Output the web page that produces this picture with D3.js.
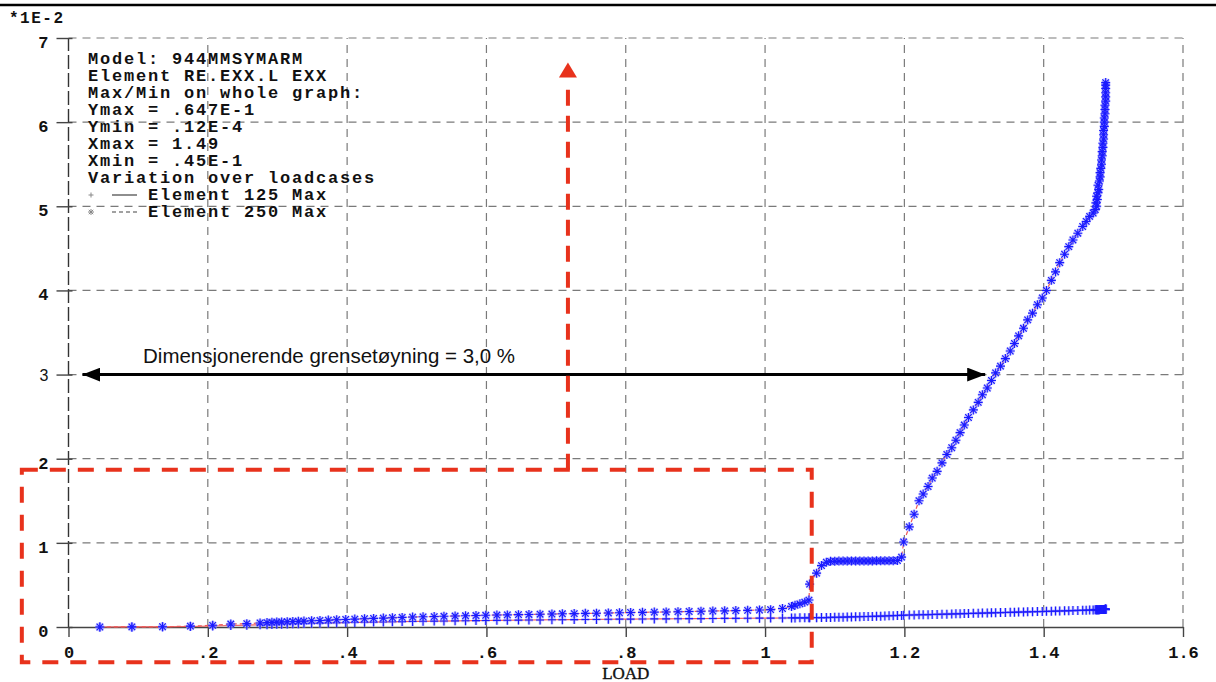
<!DOCTYPE html>
<meta charset="utf-8">
<style>
body { margin: 0; background: #fff; }
svg { display: block; }
.mono { font-family: "Liberation Mono", "DejaVu Sans Mono", monospace; font-weight: bold; fill: #111; }
.grid line { stroke: #7a7a7a; stroke-width: 1.2; stroke-dasharray: 8,6; }
.note { font-family: "Liberation Mono", monospace; font-size: 17px; font-weight: bold; letter-spacing: 1.8px; fill: #111; }
</style>
<svg width="1216" height="682"></svg>
<script src="https://cdnjs.cloudflare.com/ajax/libs/d3/7.8.5/d3.min.js"></script>
<script>

// LOAD steps (shared by both elements)
var load = [
  0.045, 0.091, 0.135, 0.175, 0.207, 0.233, 0.256, 0.275, 0.285, 0.292,
  0.299, 0.306, 0.314, 0.322, 0.330, 0.338, 0.349, 0.361, 0.373, 0.385,
  0.398, 0.411, 0.425, 0.438, 0.452, 0.465, 0.479, 0.494, 0.509, 0.525,
  0.539, 0.555, 0.570, 0.585, 0.599, 0.615, 0.630, 0.646, 0.661, 0.677,
  0.694, 0.709, 0.726, 0.742, 0.758, 0.775, 0.791, 0.807, 0.824, 0.841,
  0.858, 0.875, 0.891, 0.908, 0.925, 0.942, 0.958, 0.975, 0.992, 1.008,
  1.025, 1.038, 1.043, 1.050, 1.057, 1.063,
  1.064, 1.074, 1.081, 1.088,
  1.094, 1.100, 1.106, 1.112, 1.118, 1.124, 1.130, 1.136, 1.142, 1.148,
  1.154, 1.160, 1.166, 1.172, 1.178, 1.184, 1.190,
  1.196, 1.199, 1.207, 1.214, 1.221, 1.227, 1.234, 1.240, 1.247, 1.254,
  1.261, 1.268, 1.274, 1.280, 1.286, 1.292, 1.299, 1.306, 1.312, 1.319,
  1.325, 1.331, 1.338, 1.345, 1.352, 1.358, 1.364, 1.371, 1.377, 1.384,
  1.391, 1.398, 1.404, 1.411, 1.417, 1.423, 1.430, 1.436, 1.442, 1.449,
  1.456, 1.461, 1.466, 1.471, 1.474,
  1.476, 1.475, 1.477, 1.476, 1.478, 1.479, 1.478, 1.480, 1.481, 1.481,
  1.482, 1.483, 1.483, 1.484, 1.484, 1.485, 1.485, 1.486, 1.486, 1.486,
  1.487, 1.487, 1.487, 1.488, 1.488, 1.488, 1.489, 1.489, 1.489, 1.489,
  1.489, 1.489
];

// EXX (*1E-2), Element 125 Max
var elem125 = [
  0.000, 0.001, 0.002, 0.006, 0.012, 0.018, 0.022, 0.026, 0.028, 0.030,
  0.032, 0.034, 0.036, 0.038, 0.040, 0.042, 0.044, 0.046, 0.048, 0.050,
  0.052, 0.054, 0.056, 0.058, 0.060, 0.062, 0.064, 0.066, 0.068, 0.070,
  0.071, 0.073, 0.074, 0.076, 0.077, 0.079, 0.080, 0.082, 0.083, 0.084,
  0.086, 0.087, 0.088, 0.089, 0.090, 0.092, 0.093, 0.094, 0.095, 0.096,
  0.097, 0.098, 0.099, 0.100, 0.101, 0.102, 0.103, 0.104, 0.105, 0.106,
  0.107, 0.108, 0.108, 0.109, 0.109, 0.110,
  0.110, 0.111, 0.112, 0.112,
  0.114, 0.115, 0.116, 0.117, 0.118, 0.120, 0.121, 0.122, 0.124, 0.125,
  0.126, 0.128, 0.129, 0.131, 0.133, 0.135, 0.137,
  0.138, 0.140, 0.142, 0.143, 0.145, 0.146, 0.147, 0.149, 0.150, 0.152,
  0.153, 0.155, 0.156, 0.158, 0.159, 0.161, 0.162, 0.164, 0.165, 0.167,
  0.168, 0.170, 0.171, 0.173, 0.174, 0.176, 0.177, 0.179, 0.180, 0.182,
  0.183, 0.185, 0.186, 0.188, 0.189, 0.191, 0.192, 0.194, 0.195, 0.197,
  0.198, 0.200, 0.201, 0.203, 0.204,
  0.205, 0.205, 0.205, 0.205, 0.206, 0.206, 0.206, 0.206, 0.207, 0.207,
  0.207, 0.207, 0.207, 0.208, 0.208, 0.208, 0.208, 0.208, 0.208, 0.209,
  0.209, 0.209, 0.209, 0.209, 0.209, 0.210, 0.210, 0.210, 0.210, 0.210,
  0.210, 0.210
];

// EXX (*1E-2), Element 250 Max
var elem250 = [
  0.000, 0.001, 0.003, 0.010, 0.020, 0.035, 0.040, 0.048, 0.052, 0.055,
  0.058, 0.060, 0.062, 0.065, 0.068, 0.070, 0.074, 0.078, 0.082, 0.086,
  0.090, 0.094, 0.098, 0.102, 0.106, 0.110, 0.114, 0.118, 0.121, 0.124,
  0.127, 0.130, 0.133, 0.136, 0.139, 0.142, 0.144, 0.147, 0.149, 0.152,
  0.154, 0.157, 0.159, 0.162, 0.164, 0.167, 0.169, 0.172, 0.174, 0.177,
  0.179, 0.182, 0.184, 0.187, 0.190, 0.192, 0.195, 0.198, 0.202, 0.206,
  0.220, 0.245, 0.258, 0.275, 0.295, 0.320,
  0.510, 0.640, 0.730, 0.770,
  0.780, 0.782, 0.783, 0.783, 0.784, 0.784, 0.784, 0.785, 0.785, 0.785,
  0.785, 0.786, 0.786, 0.786, 0.787, 0.788, 0.790,
  0.83, 1.01, 1.19, 1.34, 1.50, 1.58, 1.67, 1.77, 1.85, 1.95,
  2.05, 2.13, 2.22, 2.31, 2.40, 2.49, 2.58, 2.67, 2.76, 2.84,
  2.93, 3.02, 3.10, 3.19, 3.28, 3.37, 3.46, 3.55, 3.65, 3.73,
  3.83, 3.91, 4.00, 4.12, 4.22, 4.33, 4.43, 4.52, 4.60, 4.68,
  4.76, 4.82, 4.88, 4.92, 4.96,
  5.00, 5.04, 5.08, 5.12, 5.16, 5.20, 5.25, 5.30, 5.35, 5.40,
  5.45, 5.50, 5.55, 5.60, 5.65, 5.70, 5.75, 5.80, 5.85, 5.90,
  5.95, 6.00, 6.05, 6.10, 6.15, 6.20, 6.25, 6.30, 6.35, 6.40,
  6.44, 6.47
];

var xTicks = [0, 0.2, 0.4, 0.6, 0.8, 1, 1.2, 1.4, 1.6];
var xTickLabels = ["0", ".2", ".4", ".6", ".8", "1", "1.2", "1.4", "1.6"];
var yTicks = [0, 1, 2, 3, 4, 5, 6, 7];

var infoLines = [
  "Model: 944MMSYMARM",
  "Element RE.EXX.L EXX",
  "Max/Min on whole graph:",
  "Ymax = .647E-1",
  "Ymin = .12E-4",
  "Xmax = 1.49",
  "Xmin = .45E-1",
  "Variation over loadcases"
];
var legendLabels = ["Element 125 Max", "Element 250 Max"];

var limitText = "Dimensjonerende grensetøyning = 3,0 %";
var limitValue = 3;

var svg = d3.select("svg"),
    W = +svg.attr("width"),
    H = +svg.attr("height");

var x = d3.scaleLinear().domain([0, 1.6]).range([68.5, 1183]);
var y = d3.scaleLinear().domain([0, 7]).range([627, 38]);

// top rule
svg.append("line")
    .attr("x1", 0).attr("x2", W).attr("y1", 5).attr("y2", 5)
    .attr("stroke", "#000").attr("stroke-width", 2.5);

// grid
var grid = svg.append("g").attr("class", "grid");
grid.selectAll(".h").data(yTicks.slice(1)).enter().append("line")
    .attr("x1", x(0)).attr("x2", x(1.6))
    .attr("y1", function(d) { return y(d); })
    .attr("y2", function(d) { return y(d); });
grid.selectAll(".v").data(xTicks.slice(1)).enter().append("line")
    .attr("y1", y(0)).attr("y2", y(7))
    .attr("x1", function(d) { return x(d); })
    .attr("x2", function(d) { return x(d); });

// left axis line (dashed dark)
svg.append("line")
    .attr("x1", x(0)).attr("x2", x(0)).attr("y1", y(0)).attr("y2", y(7))
    .attr("stroke", "#333").attr("stroke-width", 1.4).attr("stroke-dasharray", "14,4");

// axes
var xAxis = svg.append("g")
    .attr("transform", "translate(0," + y(0) + ")")
    .call(d3.axisBottom(x).tickValues(xTicks)
      .tickFormat(function(d, i) { return xTickLabels[i]; })
      .tickSizeInner(10).tickSizeOuter(0).tickPadding(9));
xAxis.select(".domain").attr("stroke", "#444").attr("stroke-width", 1.5);
xAxis.selectAll(".tick line").attr("stroke", "#444").attr("stroke-width", 1.4);
xAxis.selectAll("text").attr("class", "mono").attr("font-size", 17).attr("fill", "#111");

var yAxis = svg.append("g")
    .attr("transform", "translate(" + x(0) + ",0)")
    .call(d3.axisLeft(y).tickValues(yTicks).tickFormat(d3.format("d"))
      .tickSizeInner(12).tickSizeOuter(0).tickPadding(8));
yAxis.select(".domain").remove();
yAxis.selectAll(".tick line").attr("stroke", "#444").attr("stroke-width", 1.4).attr("x2", -12).attr("x1", 4);
yAxis.selectAll("text").attr("class", "mono").attr("font-size", 17).attr("fill", "#111").attr("dy", "0.55em");
yAxis.selectAll(".tick").filter(function(d) { return d === limitValue; }).select("text")
    .attr("class", null)
    .style("font-family", "'Liberation Sans', Arial, sans-serif")
    .attr("font-size", 16).attr("fill", "#111").attr("dy", "0.4em");

svg.append("text").attr("class", "mono")
    .attr("x", 9).attr("y", 23).attr("font-size", 16).attr("letter-spacing", 1.5)
    .text("*1E-2");

svg.append("text")
    .attr("x", (x(0) + x(1.6)) / 2).attr("y", 679)
    .attr("text-anchor", "middle")
    .style("font-family", "'Liberation Serif', 'Times New Roman', serif")
    .attr("font-size", 17).attr("fill", "#111")
    .attr("stroke", "#111").attr("stroke-width", 0.4)
    .text("LOAD");

// series lines
var line = d3.line()
    .x(function(d) { return x(d[0]); })
    .y(function(d) { return y(d[1]); });

var s125 = load.map(function(l, i) { return [l, elem125[i]]; });
var s250 = load.map(function(l, i) { return [l, elem250[i]]; });

svg.append("path").datum(s125).attr("d", line)
    .attr("fill", "none").attr("stroke", "#ee5a5a").attr("stroke-width", 1.2);
svg.append("path").datum(s250).attr("d", line)
    .attr("fill", "none").attr("stroke", "#ee5a5a").attr("stroke-width", 1.2)
    .attr("stroke-dasharray", "4,3");

var plusPath = "M-4,0H4M0,-4.5V4.5";
var starPath = "M-4.5,0H4.5M0,-4.5V4.5M-3.3,-3.3L3.3,3.3M-3.3,3.3L3.3,-3.3";

function markers(data, path) {
  var g = svg.append("g");
  g.selectAll(".halo").data(data).enter().append("path")
      .attr("d", path)
      .attr("transform", function(d) { return "translate(" + x(d[0]) + "," + y(d[1]) + ")"; })
      .attr("stroke", "#9a9aff").attr("stroke-opacity", 0.55).attr("stroke-width", 2.8).attr("fill", "none");
  g.selectAll(".m").data(data).enter().append("path")
      .attr("d", path)
      .attr("transform", function(d) { return "translate(" + x(d[0]) + "," + y(d[1]) + ")"; })
      .attr("stroke", "#1a1aff").attr("stroke-width", 1.1).attr("fill", "none");
}
markers(s125, plusPath);
markers(s250, starPath);

// info block
var info = svg.append("g");
info.selectAll("text").data(infoLines).enter().append("text")
    .attr("class", "note")
    .attr("x", 88).attr("y", function(d, i) { return 64 + i * 17; })
    .text(function(d) { return d; });

var legY = [64 + 8 * 17, 64 + 9 * 17];
var leg = info.selectAll(".leg").data(legendLabels).enter().append("g");
leg.append("text").attr("class", "note")
    .attr("x", 148).attr("y", function(d, i) { return legY[i]; })
    .text(function(d) { return d; });
leg.append("line")
    .attr("x1", 112).attr("x2", 137)
    .attr("y1", function(d, i) { return legY[i] - 5; })
    .attr("y2", function(d, i) { return legY[i] - 5; })
    .attr("stroke", "#444").attr("stroke-width", 1.2)
    .attr("stroke-dasharray", function(d, i) { return i ? "4,3" : null; });
leg.append("path")
    .attr("d", function(d, i) { return i ? "M-3,0H3M0,-3V3M-2.2,-2.2L2.2,2.2M-2.2,2.2L2.2,-2.2" : "M-2.5,0H2.5M0,-2.5V2.5"; })
    .attr("transform", function(d, i) { return "translate(91," + (legY[i] - 5) + ")"; })
    .attr("stroke", "#888").attr("stroke-width", 1).attr("fill", "none");

// annotation: design strain limit, double arrow
var defs = svg.append("defs");
defs.append("marker").attr("id", "blackHead")
    .attr("viewBox", "0 0 18 14").attr("refX", 18).attr("refY", 7)
    .attr("markerWidth", 18).attr("markerHeight", 14).attr("markerUnits", "userSpaceOnUse")
    .attr("orient", "auto-start-reverse")
  .append("path").attr("d", "M0,0L18,7L0,14Z").attr("fill", "#000");

svg.append("line")
    .attr("x1", x(0.02)).attr("x2", x(1.316))
    .attr("y1", y(limitValue)).attr("y2", y(limitValue))
    .attr("stroke", "#000").attr("stroke-width", 3)
    .attr("marker-start", "url(#blackHead)").attr("marker-end", "url(#blackHead)");

svg.append("text")
    .attr("x", x(0.107)).attr("y", y(limitValue) - 12)
    .style("font-family", "'Liberation Sans', Arial, sans-serif")
    .attr("font-size", 20.5).attr("fill", "#111")
    .text(limitText);

// annotation: red dashed box + arrow
var red = "#e8321c";
svg.append("rect")
    .attr("x", x(-0.067)).attr("y", y(1.87))
    .attr("width", x(1.067) - x(-0.067)).attr("height", y(-0.42) - y(1.87))
    .attr("fill", "none").attr("stroke", red).attr("stroke-width", 4)
    .attr("stroke-dasharray", "16,12");

var arrowX = x(0.717), tipY = y(6.71);
svg.append("line")
    .attr("x1", arrowX).attr("x2", arrowX)
    .attr("y1", y(1.87)).attr("y2", tipY + 18)
    .attr("stroke", red).attr("stroke-width", 4)
    .attr("stroke-dasharray", "16,10");
svg.append("path")
    .attr("d", "M" + arrowX + "," + tipY + "L" + (arrowX + 9) + "," + (tipY + 15) + "L" + (arrowX - 9) + "," + (tipY + 15) + "Z")
    .attr("fill", red);

</script>
